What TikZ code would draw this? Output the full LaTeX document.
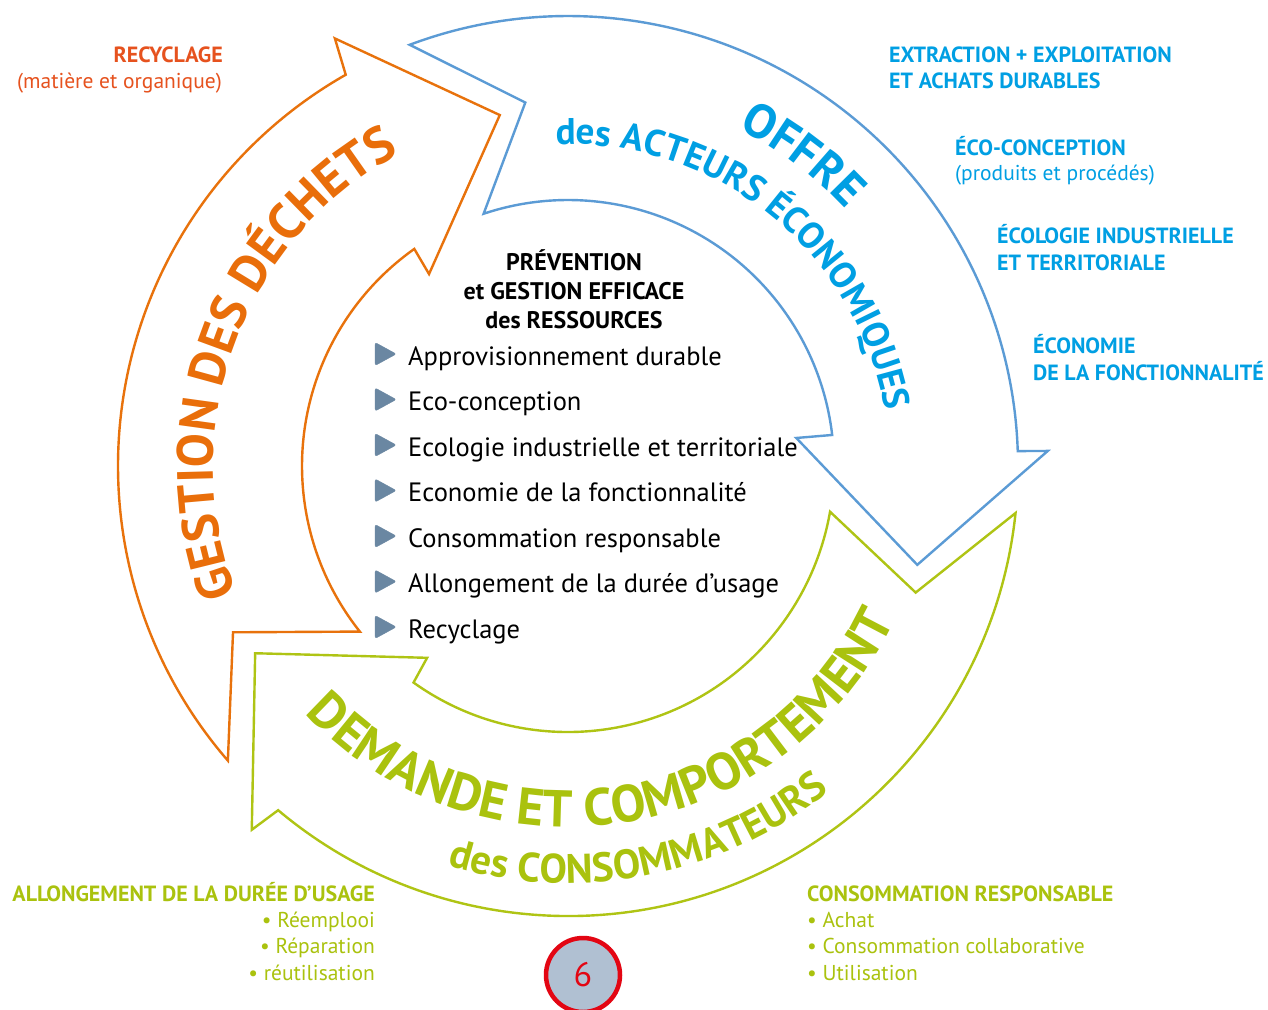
\documentclass[tikz,border=0pt]{standalone}
\usepackage{fontspec}
\setmainfont{PT Sans}
\usepackage{xcolor}
\usetikzlibrary{decorations.text,shapes.geometric,positioning}

\definecolor{orgline}{RGB}{232,114,12}
\definecolor{orgtext}{RGB}{233,110,10}
\definecolor{recred}{RGB}{230,82,30}
\definecolor{blueline}{RGB}{91,155,213}
\definecolor{bluetext}{RGB}{0,159,227}
\definecolor{grnline}{RGB}{175,196,20}
\definecolor{grntext}{RGB}{170,194,14}
\definecolor{slate}{RGB}{106,135,162}
\definecolor{pastille}{RGB}{176,192,210}
\definecolor{pagered}{RGB}{227,6,19}

% fonts for the curved titles
\newcommand\orgbig{\fontsize{51}{51}\selectfont\bfseries\color{orgtext}}
\newcommand\bluebig{\fontsize{48}{48}\selectfont\bfseries\color{bluetext}}
\newcommand\bluemid{\fontsize{37}{37}\selectfont\bfseries\color{bluetext}}
\newcommand\grnbig{\fontsize{52}{52}\selectfont\bfseries\color{grntext}}
\newcommand\grnmid{\fontsize{41}{41}\selectfont\bfseries\color{grntext}}

\begin{document}
\begin{tikzpicture}[x=1pt,y=-1pt,
arw/.style={line width=2.4pt,line join=miter},
hd/.style={font=\fontsize{22}{26}\selectfont\bfseries,inner sep=0pt},
tx/.style={font=\fontsize{21.5}{26}\selectfont,inner sep=0pt},
ttl/.style={font=\fontsize{24}{29}\selectfont\bfseries,inner sep=0pt,anchor=base},
item/.style={font=\fontsize{26.5}{30}\selectfont,inner sep=0pt,anchor=base west},
puce/.style={isosceles triangle,isosceles triangle stretches,fill=slate,draw=slate,
  rounded corners=2pt,minimum width=23pt,minimum height=21pt,inner sep=0pt}]

\useasboundingbox (0,0) rectangle (1268,1009);
\fill[white] (0,0) rectangle (1268,1009);

\begin{scope}[shift={(568,466)}]
% the three arrows
\draw[arw,draw=orgline] (139.1:450) arc[start angle=139.1,end angle=240.4,radius=450]
  -- (241.4:487) -- (259:357.5) -- (234.1:237) -- (234.7:266)
  arc[start angle=234.7,end angle=141.5,radius=266] -- (153.6:374) -- cycle;
\draw[arw,draw=blueline] (249.4:450) arc[start angle=249.4,end angle=358.1,radius=450]
  -- (358.2:480) -- (375.8:363) -- (353:230) -- (353.3:266)
  arc[start angle=353.3,end angle=251.5,radius=266] -- (263.3:366) -- cycle;
\draw[arw,draw=grnline] (6:450) arc[start angle=6,end angle=130.1,radius=450]
  -- (131:482) -- (149.1:364.6) -- (126.3:238) -- (125.5:266)
  arc[start angle=125.5,end angle=9.9,radius=266] -- (20:370) -- cycle;

% curved titles
\path[decorate,decoration={text along path,text align=center,
  text={|\orgbig|GESTION DES DÉCHETS}}]
  (150:355) arc[start angle=150,end angle=250.6,radius=355];
\path[decorate,decoration={text along path,text align=center,
  text={|\bluebig|OFFRE}}]
  (287:378) arc[start angle=287,end angle=327,radius=378];
\path[decorate,decoration={text along path,text align=center,
  text={|\bluemid|des ACTEURS ÉCONOMIQUES}}]
  (258.5:322) arc[start angle=258.5,end angle=359.5,radius=322];
\path[decorate,decoration={text along path,text align=center,
  text={|\grnbig|DEMANDE ET COMPORTEMENT}}]
  (145:361) arc[start angle=145,end angle=17,radius=361];
\path[decorate,decoration={text along path,text align=center,
  text={|\grnmid|des CONSOMMATEURS}}]
  (115:417) arc[start angle=115,end angle=43,radius=417];
\end{scope}

% centre
\node[ttl] (t1) at (574,270) {PRÉVENTION};
\node[ttl] (t2) at (574,299) {et GESTION EFFICACE};
\node[ttl] (t3) at (574,328) {des RESSOURCES};
\foreach \txt [count=\i] in {Approvisionnement durable,Eco-conception,
  Ecologie industrielle et territoriale,Economie de la fonctionnalité,
  Consommation responsable,Allongement de la durée d’usage,Recyclage} {
  \pgfmathsetmacro\yy{354+45.5*(\i-1)}
  \node[puce] (p\i) at (382,\yy) {};
  \node[item] (it\i) at (408,{\yy+11}) {\txt};
}

% side notes
\node[hd,text=recred,anchor=base east] (rec1) at (223,62) {RECYCLAGE};
\node[tx,text=recred,anchor=base east] (rec2) at (222,88) {(matière et organique)};

\node[hd,text=bluetext,anchor=base west] (of1) at (889,62) {EXTRACTION + EXPLOITATION};
\node[hd,text=bluetext,anchor=base west] (of2) at (889,88) {ET ACHATS DURABLES};
\node[hd,text=bluetext,anchor=base west] (of3) at (955,155) {ÉCO-CONCEPTION};
\node[tx,text=bluetext,anchor=base west] (of4) at (955,180) {(produits et procédés)};
\node[hd,text=bluetext,anchor=base west] (of5) at (997,243) {ÉCOLOGIE INDUSTRIELLE};
\node[hd,text=bluetext,anchor=base west] (of6) at (997,270) {ET TERRITORIALE};
\node[hd,text=bluetext,anchor=base west] (of7) at (1033,353) {ÉCONOMIE};
\node[hd,text=bluetext,anchor=base west] (of8) at (1033,380) {DE LA FONCTIONNALITÉ};

\node[hd,text=grntext,anchor=base east] (al1) at (375,901) {ALLONGEMENT DE LA DURÉE D’USAGE};
\node[tx,text=grntext,anchor=base east] (al2) at (375,927) {• Réemplooi};
\node[tx,text=grntext,anchor=base east] (al3) at (375,953) {• Réparation};
\node[tx,text=grntext,anchor=base east] (al4) at (375,980) {• réutilisation};

\node[hd,text=grntext,anchor=base west] (co1) at (807,901) {CONSOMMATION RESPONSABLE};
\node[tx,text=grntext,anchor=base west] (co2) at (807,927) {• Achat};
\node[tx,text=grntext,anchor=base west] (co3) at (807,953) {• Consommation collaborative};
\node[tx,text=grntext,anchor=base west] (co4) at (807,980) {• Utilisation};

\node[circle,draw=pagered,line width=4.5pt,fill=pastille,minimum size=74pt,inner sep=0pt,
  text=pagered,font=\fontsize{34}{34}\selectfont] (six) at (583,975) {6};
\end{tikzpicture}
\end{document}
